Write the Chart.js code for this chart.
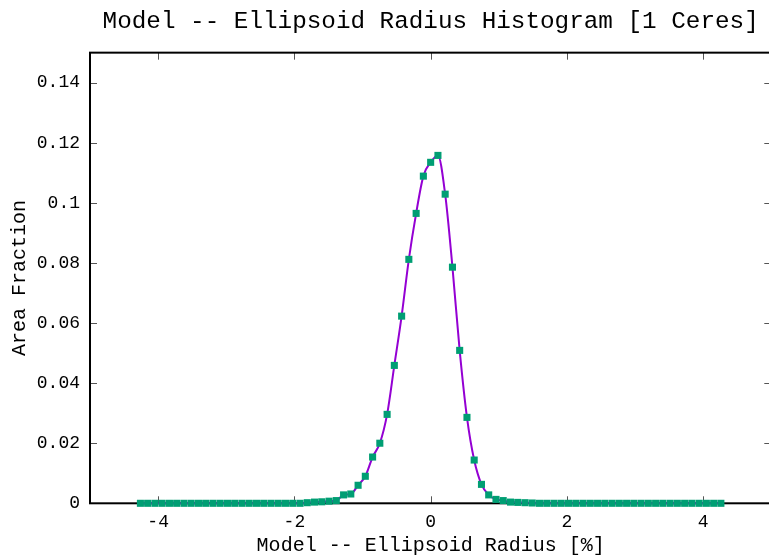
<!DOCTYPE html>
<html lang="en">
<head>
  <meta charset="UTF-8">
  <title>Model -- Ellipsoid Radius Histogram</title>
  <script src="https://cdn.jsdelivr.net/npm/chart.js"></script>
  <style>
    html, body { margin: 0; padding: 0; overflow: hidden; background: #fff; }
    canvas { display: block; }
  </style>
</head>
<body>
  <canvas id="radiusChart" width="790" height="556"></canvas>

  <script>
    // Bin centres of the radius histogram [%]
    const binCenters = [
      -4.260, -4.154, -4.047, -3.941, -3.834, -3.728, -3.621, -3.515, -3.408, -3.302,
      -3.195, -3.089, -2.982, -2.876, -2.769, -2.663, -2.556, -2.450, -2.343, -2.237,
      -2.130, -2.024, -1.917, -1.811, -1.704, -1.598, -1.491, -1.385, -1.278, -1.172,
      -1.065, -0.959, -0.852, -0.746, -0.639, -0.533, -0.426, -0.320, -0.213, -0.107,
       0.000,
       0.107,  0.213,  0.320,  0.426,  0.533,  0.639,  0.746,  0.852,  0.959,  1.065,
       1.172,  1.278,  1.385,  1.491,  1.598,  1.704,  1.811,  1.917,  2.024,  2.130,
       2.237,  2.343,  2.450,  2.556,  2.663,  2.769,  2.876,  2.982,  3.089,  3.195,
       3.302,  3.408,  3.515,  3.621,  3.728,  3.834,  3.941,  4.047,  4.154,  4.260
    ];

    // Area fraction per bin
    const areaFraction = [
      0, 0, 0, 0, 0, 0, 0, 0, 0, 0,
      0, 0, 0, 0, 0, 0, 0, 0, 0, 0,
      0, 0, 0, 0.0002, 0.0004, 0.0005, 0.0007, 0.0009, 0.0028, 0.0031,
      0.0060, 0.0090, 0.0154, 0.0200, 0.0296, 0.0459, 0.0623, 0.0812, 0.0965, 0.1089,
      0.1135,
      0.1158, 0.1029, 0.0786, 0.0509, 0.0286, 0.0144, 0.0063, 0.0028, 0.0013, 0.0009,
      0.0004, 0.0003, 0.0002, 0.0001, 0, 0, 0, 0, 0, 0,
      0, 0, 0, 0, 0, 0, 0, 0, 0, 0,
      0, 0, 0, 0, 0, 0, 0, 0, 0, 0
    ];

    const xTicks = [-4, -2, 0, 2, 4];
    const yTicks = [0, 0.02, 0.04, 0.06, 0.08, 0.1, 0.12, 0.14];

    const points = binCenters.map((x, i) => ({ x: x, y: areaFraction[i] }));
    const mono = 'Liberation Mono, DejaVu Sans Mono, monospace';

    // gnuplot-like frame with inward ticks mirrored on all sides
    const frameTicks = {
      id: 'frameTicks',
      beforeDatasetsDraw(chart) {
        const { ctx, chartArea: { left, right, top, bottom }, scales: { x, y } } = chart;
        ctx.save();
        ctx.strokeStyle = '#555';
        ctx.lineWidth = 1;
        ctx.beginPath();
        xTicks.forEach(v => {
          const px = Math.round(x.getPixelForValue(v)) + 0.5;
          ctx.moveTo(px, bottom); ctx.lineTo(px, bottom - 7);
          ctx.moveTo(px, top); ctx.lineTo(px, top + 7);
        });
        yTicks.forEach(v => {
          const py = Math.round(y.getPixelForValue(v)) + 0.5;
          ctx.moveTo(left, py); ctx.lineTo(left + 7, py);
          ctx.moveTo(right, py); ctx.lineTo(right - 7, py);
        });
        ctx.stroke();
        ctx.strokeStyle = '#000';
        ctx.lineWidth = 2;
        ctx.strokeRect(left, top, right - left, bottom - top);
        ctx.restore();
      }
    };

    const ctx = document.getElementById('radiusChart').getContext('2d');
    const radiusChart = new Chart(ctx, {
      type: 'scatter',
      data: {
        datasets: [{
          label: 'bins',
          data: points,
          order: 0,
          clip: false,
          showLine: false,
          pointStyle: 'rect',
          pointRadius: 5,
          pointBorderWidth: 0,
          pointBackgroundColor: '#009e73',
          pointBorderColor: '#009e73'
        }, {
          label: 'fit',
          data: points,
          order: 1,
          clip: false,
          showLine: true,
          borderColor: '#9400d3',
          borderWidth: 2,
          pointRadius: 0,
          cubicInterpolationMode: 'monotone',
          fill: false
        }]
      },
      options: {
        responsive: false,
        animation: false,
        layout: { padding: { left: 0, right: 18.7, top: 0, bottom: 0 } },
        plugins: {
          legend: { display: false },
          tooltip: { enabled: false },
          title: {
            display: true,
            fullSize: false,
            text: 'Model -- Ellipsoid Radius Histogram [1 Ceres]',
            color: '#000',
            font: { family: mono, size: 24.3, weight: 'normal' },
            padding: { top: 7, bottom: 16.5 }
          }
        },
        scales: {
          x: {
            type: 'linear',
            position: 'bottom',
            min: -5,
            max: 5,
            afterBuildTicks: s => { s.ticks = xTicks.map(v => ({ value: v })); },
            afterFit: s => { s.height = 52.7; },
            grid: { display: false },
            border: { display: false },
            ticks: {
              color: '#000',
              padding: 0,
              font: { family: mono, size: 18 },
              callback: v => String(v)
            },
            title: {
              display: true,
              text: 'Model -- Ellipsoid Radius [%]',
              color: '#000',
              font: { family: mono, size: 20, lineHeight: 1 },
              padding: 0
            }
          },
          y: {
            type: 'linear',
            min: 0,
            max: 0.15,
            afterBuildTicks: s => { s.ticks = yTicks.map(v => ({ value: v })); },
            afterFit: s => { s.width = 90; },
            grid: { display: false },
            border: { display: false },
            ticks: {
              color: '#000',
              padding: 2,
              font: { family: mono, size: 18 },
              callback: v => String(Math.round(v * 100) / 100)
            },
            title: {
              display: true,
              text: 'Area Fraction',
              color: '#000',
              font: { family: mono, size: 20, lineHeight: 1.2 },
              padding: { top: 8, bottom: 0 }
            }
          }
        }
      },
      plugins: [frameTicks]
    });
  </script>
</body>
</html>
